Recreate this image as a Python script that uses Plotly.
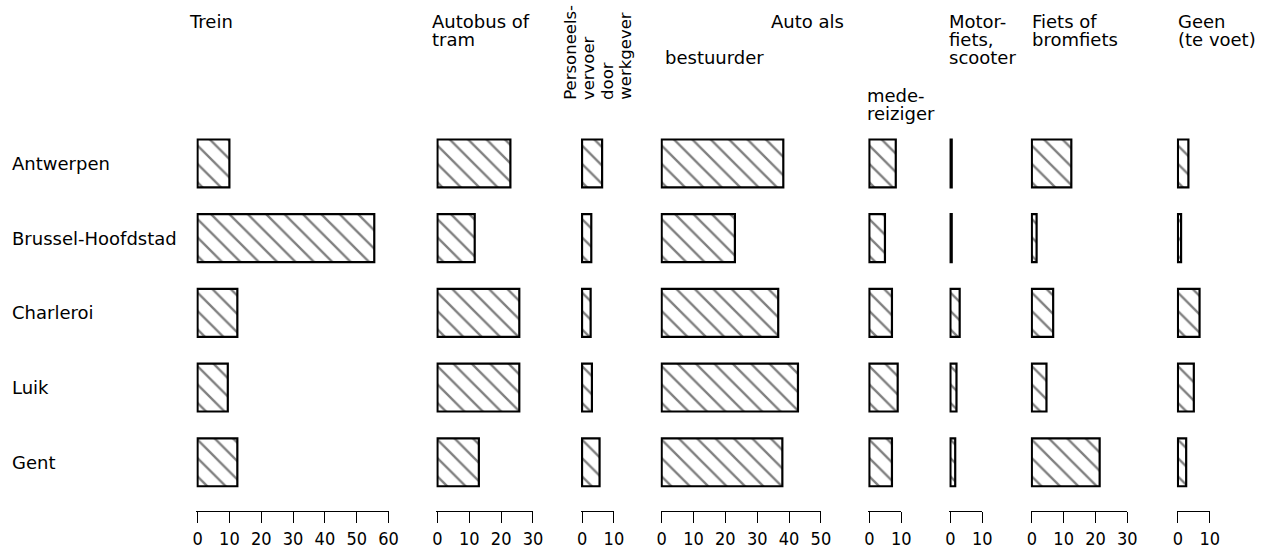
import plotly.graph_objects as go

# ---------------- data ----------------
cities = ["Antwerpen", "Brussel-Hoofdstad", "Charleroi", "Luik", "Gent"]

trein = [10.0, 55.5, 12.5, 9.5, 12.5]
autobus_tram = [22.9, 11.7, 25.7, 25.7, 13.0]
personeelsvervoer = [6.3, 2.9, 2.7, 3.1, 5.5]
auto_bestuurder = [38.2, 23.0, 36.6, 42.8, 37.9]
auto_medereiziger = [8.3, 4.9, 7.1, 8.9, 7.1]
motorfiets = [0.4, 0.4, 2.9, 1.9, 1.5]
fiets = [12.4, 1.5, 6.7, 4.6, 21.3]
geen = [3.3, 1.0, 6.8, 5.0, 2.6]

series = [trein, autobus_tram, personeelsvervoer, auto_bestuurder,
          auto_medereiziger, motorfiets, fiets, geen]
axis_max = [60, 30, 10, 50, 10, 10, 30, 10]

# ---------------- layout helpers ----------------
W, H = 1268, 549
SCALE = 3.22  # pixels per percentage point (shared by all panels)
zero_px = [195.7, 438.3, 584.5, 665.0, 875.0, 957.0, 1039.3, 1187.0]
LEFT_PAD = 0.35


def px2x(px):
    return px / W


def py2y(py):
    return 1 - py / H


fig = go.Figure()

tick_font = dict(family="Liberation Sans Narrow, DejaVu Sans Condensed, sans-serif",
                 size=18, color="black")
text_font = dict(family="DejaVu Sans, sans-serif", size=18, color="black")
rot_font = dict(family="DejaVu Sans, sans-serif", size=16.5, color="black")

for i, vals in enumerate(series):
    xname = "x" if i == 0 else f"x{i+1}"
    fig.add_trace(go.Bar(
        x=vals, y=cities, orientation="h",
        xaxis=xname, yaxis="y",
        width=0.64,
        marker=dict(color="white",
                    line=dict(color="black", width=2.2),
                    pattern=dict(shape="\\", size=13, solidity=0.18,
                                 fgcolor="black", bgcolor="white")),
        hoverinfo="x+y",
    ))
    z = zero_px[i]
    m = axis_max[i]
    key = "xaxis" if i == 0 else f"xaxis{i+1}"
    fig.layout[key] = dict(
        domain=[px2x(z - LEFT_PAD * SCALE), px2x(z + m * SCALE)],
        range=[-LEFT_PAD, m],
        anchor="y",
        tickvals=list(range(0, m + 1, 10)),
        ticks="outside", ticklen=11, tickwidth=1.2, tickcolor="black",
        showline=True, linewidth=1.2, linecolor="black",
        showgrid=False, zeroline=False,
        tickfont=tick_font,
        fixedrange=True,
    )

y_bottom_px, y_top_px = 513.0, 126.5
fig.update_layout(
    yaxis=dict(
        domain=[py2y(y_bottom_px), py2y(y_top_px)],
        type="category",
        categoryorder="array", categoryarray=cities,
        range=[4.653, -0.5],
        showticklabels=False, showline=False, showgrid=False,
        zeroline=False, ticks="", anchor="x", fixedrange=True,
    ),
)

annotations = []
# row labels
for c in cities:
    annotations.append(dict(text=c, x=px2x(7), xref="paper", y=c, yref="y",
                            xanchor="left", yanchor="middle", showarrow=False,
                            font=text_font, borderpad=0))

# column headers: (text, left px, center y px, anchor)
headers = [
    ("Trein", 186, 22, "left"),
    ("Autobus of", 432, 22, "left"),
    ("tram", 432, 40, "left"),
    ("Auto als", 850, 22, "right"),
    ("bestuurder", 667, 58, "left"),
    ("mede-", 872, 96, "left"),
    ("reiziger", 872, 114, "left"),
    ("Motor-", 955, 22, "left"),
    ("fiets,", 955, 40, "left"),
    ("scooter", 955, 58, "left"),
    ("Fiets of", 1038, 22, "left"),
    ("bromfiets", 1038, 40, "left"),
    ("Geen", 1186, 22, "left"),
    ("(te voet)", 1186, 40, "left"),
]
for t, xp, yp, anc in headers:
    annotations.append(dict(text=t, x=px2x(xp), xref="paper", y=py2y(yp), yref="paper",
                            xanchor=anc, yanchor="middle", showarrow=False,
                            font=text_font, borderpad=0))

# rotated header for Personeelsvervoer
rot_lines = [("Personeels-", 572), ("vervoer", 591), ("door", 610), ("werkgever", 629)]
for t, xp in rot_lines:
    annotations.append(dict(text=t, x=px2x(xp), xref="paper", y=py2y(101), yref="paper",
                            xanchor="center", yanchor="bottom", textangle=-90,
                            showarrow=False, font=rot_font, borderpad=0))

fig.update_layout(
    width=W, height=H,
    margin=dict(l=0, r=0, t=0, b=0),
    paper_bgcolor="white", plot_bgcolor="white",
    showlegend=False, barmode="overlay",
    annotations=annotations,
)

fig.write_html(
    "out.html",
    config={"displayModeBar": False},
    post_script="document.body.style.margin='0';document.body.style.padding='0';",
)
